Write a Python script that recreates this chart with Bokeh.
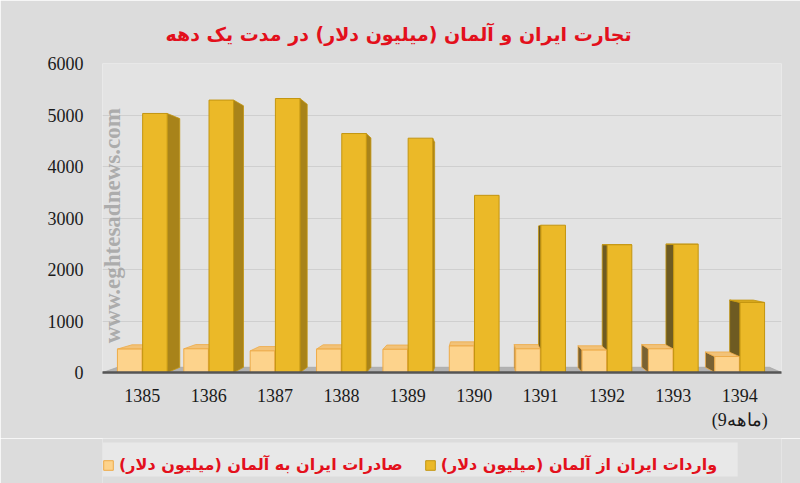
from bokeh.plotting import figure
from bokeh.models import Range1d, FixedTicker, ColumnDataSource, Legend, LegendItem, Label
from bokeh.layouts import column
from bokeh.embed import file_html
from bokeh.resources import INLINE
import math

# ---- data ----
years = ["1385", "1386", "1387", "1388", "1389", "1390", "1391", "1392", "1393", "1394"]
year_notes = ["", "", "", "", "", "", "", "", "", "(9ماهه)"]
imports = [5030, 5290, 5320, 4640, 4550, 3440, 2860, 2480, 2490, 1360]   # واردات ایران از آلمان
exports = [455, 460, 420, 455, 450, 515, 460, 435, 460, 310]             # صادرات ایران به آلمان
y_ticks = [0, 1000, 2000, 3000, 4000, 5000, 6000]

title_text = "تجارت ایران و آلمان (میلیون دلار) در مدت یک دهه"
imp_label = "واردات ایران از آلمان (میلیون دلار)"
exp_label = "صادرات ایران به آلمان (میلیون دلار)"
watermark = "www.eghtesadnews.com"

# ---- style ----
W = 0.37
OFF = 0.19
K = 0.96          # perspective shrink of back faces
VPX, VPY = 5.1, 2530
IMP = dict(front="#ebb928", line="#c39510", rside="#a8831a", lside="#6e5b22", top="#d9aa20")
EXP = dict(front="#fdd38c", line="#eeab48", rside="#d9a85a", lside="#7a6232", top="#f2c278")
BG = "#dcdcdc"

x = list(range(len(years)))
x_exp = [i - OFF for i in x]
x_imp = [i + OFF for i in x]

def back(px, py):
    return VPX + (px - VPX) * K, VPY + (py - VPY) * K

def bar_faces(xc, v, col):
    xl, xr = xc - W / 2, xc + W / 2
    out = []
    if xr < VPX:
        pts = [(xr, 0), (xr, v), back(xr, v), back(xr, 0)]
        out.append((pts, col["rside"], col["line"]))
    elif xl > VPX:
        pts = [(xl, 0), (xl, v), back(xl, v), back(xl, 0)]
        out.append((pts, col["lside"], col["line"]))
    if v < VPY:
        pts = [(xl, v), (xr, v), back(xr, v), back(xl, v)]
        out.append((pts, col["top"], col["line"]))
    return out

faces = []
x0, x1 = -0.6, 9.63
faces.append(([(x0, 0), (x1, 0), back(x1, 0), back(x0, 0)], "#b2b2b2", "#a8a8a8"))
for xc, v in zip(x_imp, imports):
    faces.extend(bar_faces(xc, v, IMP))
for xc, v in zip(x_exp, exports):
    faces.extend(bar_faces(xc, v, EXP))

face_src = ColumnDataSource(dict(
    xs=[[q[0] for q in f[0]] for f in faces],
    ys=[[q[1] for q in f[0]] for f in faces],
    fill=[f[1] for f in faces],
    line=[f[2] for f in faces],
))

p = figure(width=800, height=438, x_range=Range1d(x0, x1), y_range=Range1d(0, 6000),
           output_backend="svg", toolbar_location=None,
           min_border_left=102, min_border_right=19, min_border_bottom=66, min_border_top=63,
           background_fill_color="#e3e3e3", border_fill_color=BG)
p.outline_line_color = None

p.title.text = title_text
p.title.align = "left"
p.title.offset = 63
p.title.standoff = 38
p.title.text_font = "DejaVu Sans"
p.title.text_font_style = "bold"
p.title.text_font_size = "19px"
p.title.text_color = "#e3101c"

p.patches("xs", "ys", source=face_src, fill_color="fill", line_color="line", line_width=0.8)

exp_src = ColumnDataSource(dict(x=x_exp, top=exports))
imp_src = ColumnDataSource(dict(x=x_imp, top=imports))
p.vbar(x="x", top="top", width=W, source=exp_src, fill_color=EXP["front"], line_color=EXP["line"], line_width=1)
p.vbar(x="x", top="top", width=W, source=imp_src, fill_color=IMP["front"], line_color=IMP["line"], line_width=1)

p.xgrid.grid_line_color = None
p.ygrid.grid_line_color = "#cfcfcf"
p.ygrid.ticker = FixedTicker(ticks=y_ticks)

p.xaxis.ticker = FixedTicker(ticks=x)
p.xaxis.major_label_overrides = {i: (y if n == "" else y + "\n" + n) for i, (y, n) in enumerate(zip(years, year_notes))}
p.xaxis.major_label_text_font = "Liberation Serif"
p.xaxis.major_label_text_font_size = "18px"
p.xaxis.major_label_text_color = "#1a1a1a"
p.xaxis.major_label_standoff = 7
p.xaxis.major_tick_line_color = None
p.xaxis.minor_tick_line_color = None
p.xaxis.axis_line_color = "#555555"
p.xaxis.axis_line_width = 2.5

p.yaxis.ticker = FixedTicker(ticks=y_ticks)
p.yaxis.major_label_text_font = "Liberation Serif"
p.yaxis.major_label_text_font_size = "18px"
p.yaxis.major_label_text_color = "#1a1a1a"
p.yaxis.major_label_standoff = 13
p.yaxis.major_tick_line_color = None
p.yaxis.minor_tick_line_color = None
p.yaxis.axis_line_color = None

p.add_layout(Label(x=-0.45, y=2850, text=watermark, angle=math.pi / 2,
                   text_align="center", text_baseline="middle",
                   text_font="Liberation Serif", text_font_style="bold",
                   text_font_size="23px", text_color="#9a9a9a", text_alpha=0.75))

# ---- legend strip (separate small figure below; its frame is aligned with the chart's) ----
lg = figure(width=800, height=45, x_range=Range1d(103, 800), y_range=Range1d(0, 45),
            output_backend="svg", toolbar_location=None,
            min_border=0, x_axis_type=None, y_axis_type=None,
            background_fill_color=BG, border_fill_color=BG)
lg.outline_line_color = None
lg.grid.visible = False
lg.quad(left=103, right=755, bottom=7, top=41, fill_color="#e8e8e8", line_color=None)
# swatch renderers kept outside the visible range; the legend draws their glyphs
r_exp = lg.rect(x=[-500], y=[-500], width=1, height=1, fill_color=EXP["front"], line_color=EXP["line"])
r_imp = lg.rect(x=[-500], y=[-500], width=1, height=1, fill_color=IMP["front"], line_color=IMP["line"])

legend = Legend(items=[LegendItem(label=exp_label, renderers=[r_exp]),
                       LegendItem(label=imp_label, renderers=[r_imp])],
                orientation="horizontal", location=(0, 9), margin=0,
                padding=5, spacing=21, label_width=282, label_standoff=5,
                glyph_width=12, glyph_height=12,
                background_fill_alpha=0, border_line_color=None,
                label_text_font="DejaVu Sans", label_text_font_style="bold",
                label_text_font_size="16px", label_text_color="#e3101c")
lg.add_layout(legend)

layout = column(p, lg, spacing=0)
open("out.html", "w").write(file_html(layout, INLINE))
